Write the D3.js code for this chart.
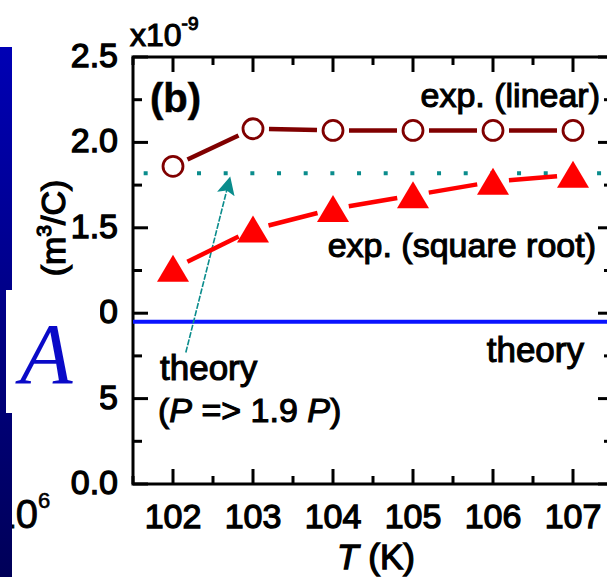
<!DOCTYPE html>
<html>
<head>
<meta charset="utf-8">
<script src="https://cdn.jsdelivr.net/npm/d3@7"></script>
<style>
  body { margin: 0; background: #fff; }
  svg { display: block; }
</style>
</head>
<body>
<div id="chart"></div>
<script>
// values (units of 1e-9 m^3/C)
var temps = [102, 103, 104, 105, 106, 107];
var linearVals = [1.86, 2.08, 2.07, 2.07, 2.07, 2.07];
var sqrtVals = [1.26, 1.49, 1.61, 1.69, 1.77, 1.81];
var theoryVal = 0.95;
var theoryScaledVal = 1.82;
var yMajor = [0, 0.5, 1.0, 1.5, 2.0, 2.5];
var yMinor = [0.25, 0.75, 1.25, 1.75, 2.25];
var xMinor = [101.5, 102.5, 103.5, 104.5, 105.5, 106.5];
var arrowFrom = [102.16, 0.77], arrowTo = [102.71, 1.79];

var W = 607, H = 577;
var SANS = "'Liberation Sans', Arial, sans-serif";
var x = d3.scaleLinear().domain([101.5, 107.5]).range([133, 613]);
var y = d3.scaleLinear().domain([0, 2.5]).range([484, 57]);

var svg = d3.select("#chart").append("svg").attr("width", W).attr("height", H)
  .style("font-family", SANS);

var defs = svg.append("defs");
var grad = defs.append("linearGradient").attr("id", "bar").attr("x1", 0).attr("y1", 0).attr("x2", 0).attr("y2", 1);
grad.append("stop").attr("offset", "0%").attr("stop-color", "#0000b4");
grad.append("stop").attr("offset", "100%").attr("stop-color", "#000058");
defs.append("marker").attr("id", "ah").attr("viewBox", "0 0 10 10").attr("refX", 9).attr("refY", 5)
    .attr("markerWidth", 22).attr("markerHeight", 18).attr("markerUnits", "userSpaceOnUse").attr("orient", "auto")
  .append("path").attr("d", "M0,0 L10,5 L0,10 L2,5 Z").attr("fill", "#0a8c8c");

// frame + ticks (inward on all four sides)
var g = svg.append("g");
g.append("rect").attr("x", x(101.5)).attr("y", y(2.5)).attr("width", x(107.5) - x(101.5)).attr("height", y(0) - y(2.5))
  .attr("fill", "none").attr("stroke", "#000").attr("stroke-width", 3);

function tickLines(vals, len, vertical) {
  vals.forEach(function(v) {
    if (vertical) {
      g.append("line").attr("x1", x(v)).attr("x2", x(v)).attr("y1", y(0)).attr("y2", y(0) - len).attr("stroke", "#000").attr("stroke-width", 3);
      g.append("line").attr("x1", x(v)).attr("x2", x(v)).attr("y1", y(2.5)).attr("y2", y(2.5) + len).attr("stroke", "#000").attr("stroke-width", 3);
    } else {
      g.append("line").attr("y1", y(v)).attr("y2", y(v)).attr("x1", x(101.5)).attr("x2", x(101.5) + len).attr("stroke", "#000").attr("stroke-width", 3);
      g.append("line").attr("y1", y(v)).attr("y2", y(v)).attr("x1", x(107.5)).attr("x2", x(107.5) - len).attr("stroke", "#000").attr("stroke-width", 3);
    }
  });
}
tickLines(temps, 15, true);
tickLines(xMinor, 8, true);
tickLines(yMajor, 15, false);
tickLines(yMinor, 9, false);

// tick labels
svg.selectAll(".xl").data(temps).enter().append("text")
  .attr("x", function(d) { return x(d); }).attr("y", 528)
  .attr("text-anchor", "middle").attr("font-size", 34).attr("stroke", "#000").attr("stroke-width", 1.3)
  .text(function(d) { return d; });
svg.selectAll(".yl").data(yMajor).enter().append("text")
  .attr("x", 118).attr("y", function(d) { return y(d) + 10; })
  .attr("text-anchor", "end").attr("font-size", 34).attr("stroke", "#000").attr("stroke-width", 1.3)
  .text(function(d) { return d.toFixed(1); });

// theory lines
svg.append("line").attr("x1", x(101.5)).attr("x2", x(107.5)).attr("y1", y(theoryVal)).attr("y2", y(theoryVal))
  .attr("stroke", "#0a14ff").attr("stroke-width", 4);
svg.append("line").attr("x1", x(101.5)).attr("x2", x(107.5)).attr("y1", y(theoryScaledVal)).attr("y2", y(theoryScaledVal))
  .attr("stroke", "#0a8c8c").attr("stroke-width", 4).attr("stroke-dasharray", "4,22.67").attr("stroke-dashoffset", 16);

// arrow
svg.append("line").attr("x1", x(arrowFrom[0])).attr("y1", y(arrowFrom[1])).attr("x2", x(arrowTo[0])).attr("y2", y(arrowTo[1]))
  .attr("stroke", "#0a8c8c").attr("stroke-width", 1.6).attr("stroke-dasharray", "6,1.5").attr("marker-end", "url(#ah)");

// connecting segments with gaps around markers
function gapLines(vals, color, gap) {
  for (var i = 0; i < vals.length - 1; i++) {
    var x1 = x(temps[i]), y1 = y(vals[i]), x2 = x(temps[i + 1]), y2 = y(vals[i + 1]);
    var d = Math.hypot(x2 - x1, y2 - y1), ux = (x2 - x1) / d, uy = (y2 - y1) / d;
    svg.append("line").attr("x1", x1 + ux * gap).attr("y1", y1 + uy * gap)
      .attr("x2", x2 - ux * gap).attr("y2", y2 - uy * gap)
      .attr("stroke", color).attr("stroke-width", 4.5);
  }
}
gapLines(linearVals, "#800000", 16);
gapLines(sqrtVals, "#ff0000", 16);

svg.selectAll(".circ").data(temps).enter().append("circle")
  .attr("cx", function(d) { return x(d); }).attr("cy", function(d, i) { return y(linearVals[i]); })
  .attr("r", 10).attr("fill", "#fff").attr("stroke", "#800000").attr("stroke-width", 2.8);
svg.selectAll(".tri").data(temps).enter().append("path")
  .attr("d", "M0,-14 L16,13 L-16,13 Z").attr("fill", "#ff0000")
  .attr("transform", function(d, i) { return "translate(" + x(d) + "," + y(sqrtVals[i]) + ")"; });

// annotations
function label(tx, ty, str, size, anchor) {
  return svg.append("text").attr("x", tx).attr("y", ty).attr("font-size", size)
    .attr("text-anchor", anchor || "start").attr("stroke", "#000").attr("stroke-width", 1.1).text(str);
}
label(150, 112, "(b)", 40).attr("font-weight", "bold").attr("stroke-width", 0.5);
label(600, 107, "exp. (linear)", 34, "end");
label(596, 257, "exp. (square root)", 34, "end");
label(584, 362, "theory", 35, "end");
label(160, 380, "theory", 35);
var pl = svg.append("text").attr("x", 158).attr("y", 422).attr("font-size", 34).attr("stroke", "#000").attr("stroke-width", 1.1);
pl.append("tspan").text("(");
pl.append("tspan").attr("font-style", "italic").text("P");
pl.append("tspan").text(" => 1.9 ");
pl.append("tspan").attr("font-style", "italic").text("P");
pl.append("tspan").text(")");

var xt = svg.append("text").attr("x", 376).attr("y", 569).attr("text-anchor", "middle").attr("font-size", 35)
  .attr("stroke", "#000").attr("stroke-width", 1.3);
xt.append("tspan").attr("font-style", "italic").text("T");
xt.append("tspan").text(" (K)");

var yt = svg.append("text").attr("transform", "translate(65,228) rotate(-90)").attr("text-anchor", "middle")
  .attr("font-size", 34).attr("stroke", "#000").attr("stroke-width", 1.3);
yt.append("tspan").text("(m");
yt.append("tspan").attr("font-size", 21).attr("dy", -14).text("3");
yt.append("tspan").attr("dy", 14).text("/C)");

var ex = svg.append("text").attr("x", 130).attr("y", 46).attr("font-size", 32).attr("stroke", "#000").attr("stroke-width", 1.1);
ex.append("tspan").text("x10");
ex.append("tspan").attr("font-size", 19).attr("dy", -16).text("-9");

// slide remnants on the left
svg.append("text").attr("x", 38).attr("y", 528).attr("text-anchor", "end").attr("font-size", 40)
  .attr("stroke", "#000").attr("stroke-width", 0.8).text("10");
svg.append("text").attr("x", 38).attr("y", 508).attr("font-size", 22)
  .attr("stroke", "#000").attr("stroke-width", 0.6).text("6");

svg.append("rect").attr("x", 0).attr("y", 47).attr("width", 12).attr("height", H - 47).attr("fill", "url(#bar)");
svg.append("rect").attr("x", 6).attr("y", 290).attr("width", 94).attr("height", 123).attr("fill", "#fff");
svg.append("text").attr("x", 20).attr("y", 383)
  .style("font-family", "'Liberation Serif', 'Times New Roman', serif")
  .attr("font-style", "italic").attr("font-size", 86).attr("fill", "#0a0ac8").text("A");
</script>
</body>
</html>
